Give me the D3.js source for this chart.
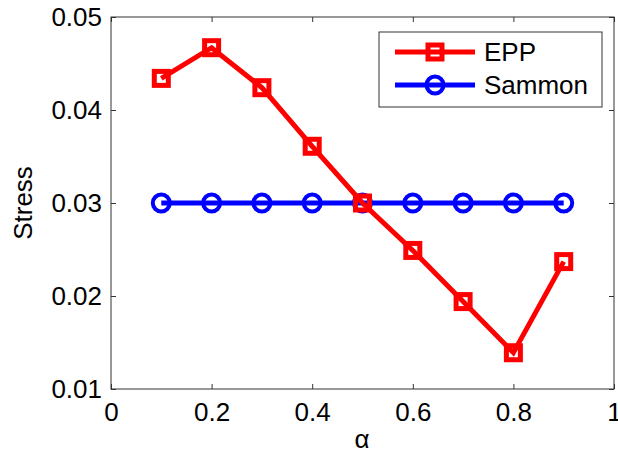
<!DOCTYPE html>
<html><head><meta charset="utf-8">
<script src="https://cdn.jsdelivr.net/npm/d3@7"></script>
<style>body{margin:0;background:#fff}svg{display:block;font-family:"Liberation Sans",Arial,sans-serif}</style>
</head><body><svg id="c" width="618" height="462"></svg>
<script>
const alphas = [0.1,0.2,0.3,0.4,0.5,0.6,0.7,0.8,0.9];
const epp = [0.0434,0.0467,0.0424,0.0361,0.0300,0.0249,0.0194,0.0139,0.0237];
const sammon = [0.030,0.030,0.030,0.030,0.030,0.030,0.030,0.030,0.030];
const xTicks = [0,0.2,0.4,0.6,0.8,1];
const yTicks = [0.01,0.02,0.03,0.04,0.05];
const seriesNames = ["EPP","Sammon"];

const svg = d3.select("#c");
const L=111,R=614,T=17,B=389;
const x = d3.scaleLinear().domain([0,1]).range([L,R]);
const y = d3.scaleLinear().domain([0.01,0.05]).range([B,T]);
const ax = "#333";
const FS = "26px";

svg.append("rect").attr("x",L).attr("y",T).attr("width",R-L).attr("height",B-T).attr("fill","none").attr("stroke",ax).attr("stroke-width",1);

const fmt = d => d===0||d===1 ? String(d) : d3.format(".1f")(d);
const gx = svg.append("g").attr("transform",`translate(0,${B})`).call(d3.axisBottom(x).tickValues(xTicks).tickSize(-5).tickPadding(14).tickFormat(fmt));
const gxt = svg.append("g").attr("transform",`translate(0,${T})`).call(d3.axisTop(x).tickValues(xTicks).tickSize(-5).tickFormat(""));
const gy = svg.append("g").attr("transform",`translate(${L},0)`).call(d3.axisLeft(y).tickValues(yTicks).tickSize(-5).tickPadding(9).tickFormat(d3.format(".2f")));
const gyr = svg.append("g").attr("transform",`translate(${R},0)`).call(d3.axisRight(y).tickValues(yTicks).tickSize(-5).tickFormat(""));
[gx,gxt,gy,gyr].forEach(g=>{g.select(".domain").remove();g.selectAll("line").attr("stroke",ax);g.selectAll("text").attr("fill","#000").style("font-size",FS).style("font-family","Liberation Sans, Arial, sans-serif");});
gx.selectAll("text").attr("dy","0.71em");

svg.append("text").attr("transform","translate(32,203) rotate(-90)").attr("text-anchor","middle").style("font-size",FS).text("Stress");
svg.append("text").attr("x",362).attr("y",448).attr("text-anchor","middle").style("font-size",FS).text("α");

const line = d3.line().x((d,i)=>x(alphas[i])).y(d=>y(d));
svg.append("path").datum(sammon).attr("d",line).attr("fill","none").attr("stroke","#0000ff").attr("stroke-width",5);
svg.selectAll(".sc").data(sammon).join("circle").attr("cx",(d,i)=>x(alphas[i])).attr("cy",d=>y(d)).attr("r",8.5).attr("fill","none").attr("stroke","#0000ff").attr("stroke-width",4);
svg.append("path").datum(epp).attr("d",line).attr("fill","none").attr("stroke","#ff0000").attr("stroke-width",5);
svg.selectAll(".es").data(epp).join("rect").attr("x",(d,i)=>x(alphas[i])-7).attr("y",d=>y(d)-7).attr("width",14).attr("height",14).attr("fill","none").attr("stroke","#ff0000").attr("stroke-width",5);

const lg = svg.append("g");
lg.append("rect").attr("x",379).attr("y",32).attr("width",223).attr("height",75).attr("fill","#fff").attr("stroke",ax).attr("stroke-width",1);
const colors=["#ff0000","#0000ff"];
seriesNames.forEach((n,i)=>{
  const yy = 52+i*33;
  lg.append("line").attr("x1",395).attr("x2",475).attr("y1",yy).attr("y2",yy).attr("stroke",colors[i]).attr("stroke-width",5);
  if(i===0) lg.append("rect").attr("x",428).attr("y",yy-7).attr("width",14).attr("height",14).attr("fill","none").attr("stroke",colors[i]).attr("stroke-width",5);
  else lg.append("circle").attr("cx",435).attr("cy",yy).attr("r",8.5).attr("fill","none").attr("stroke",colors[i]).attr("stroke-width",4);
  lg.append("text").attr("x",484).attr("y",yy).attr("dy","0.36em").style("font-size",FS).text(n);
});
</script></body></html>
